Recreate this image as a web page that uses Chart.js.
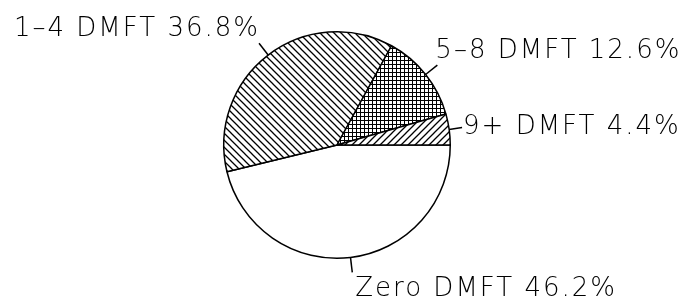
<!DOCTYPE html>
<html lang="en">
<head>
  <meta charset="UTF-8">
  <title>DMFT distribution</title>
  <script src="https://cdn.jsdelivr.net/npm/chart.js"></script>
  <style>
    html, body { margin: 0; padding: 0; background: #fff; }
    .chart-wrap { width: 688px; height: 302px; position: relative; }
  </style>
</head>
<body>
  <div class="chart-wrap">
    <canvas id="pieChart"></canvas>
  </div>

  <script>
    // Data
    const categories = ['Zero DMFT', '1–4 DMFT', '5–8 DMFT', '9+ DMFT'];
    const percents = [46.2, 36.8, 12.6, 4.4];

    // Hatch patterns (plotter style fills)
    function makePattern(kind) {
      const size = kind === 'grid' ? 4 : 7;
      const c = document.createElement('canvas');
      c.width = size; c.height = size;
      const g = c.getContext('2d');
      g.fillStyle = '#fff';
      g.fillRect(0, 0, size, size);
      g.strokeStyle = '#000';
      g.lineWidth = 1.3;
      g.beginPath();
      if (kind === 'back') {
        g.moveTo(-1, -1); g.lineTo(size + 1, size + 1);
        g.moveTo(-1, size - 1); g.lineTo(1, size + 1);
        g.moveTo(size - 1, -1); g.lineTo(size + 1, 1);
      } else if (kind === 'fwd') {
        g.moveTo(-1, size + 1); g.lineTo(size + 1, -1);
        g.moveTo(-1, 1); g.lineTo(1, -1);
        g.moveTo(size - 1, size + 1); g.lineTo(size + 1, size - 1);
      } else if (kind === 'grid') {
        g.lineWidth = 1;
        g.moveTo(0, 0.5); g.lineTo(size, 0.5);
        g.moveTo(0.5, 0); g.lineTo(0.5, size);
      }
      g.stroke();
      return g.createPattern(c, 'repeat');
    }

    const fills = ['#ffffff', makePattern('back'), makePattern('grid'), makePattern('fwd')];

    // how each label sits against the end of its leader line
    const labelAnchors = [
      { align: 'left',  baseline: 'top',        dx: 3,  dy: 4,  lead: 15 },
      { align: 'right', baseline: 'alphabetic', dx: 1,  dy: -7, lead: 15 },
      { align: 'left',  baseline: 'alphabetic', dx: -2, dy: -7, lead: 15 },
      { align: 'left',  baseline: 'middle',     dx: 1,  dy: 0,  lead: 13 }
    ];

    const leaderLabels = {
      id: 'leaderLabels',
      afterDatasetsDraw(chart) {
        const ctx = chart.ctx;
        const meta = chart.getDatasetMeta(0);
        ctx.save();
        ctx.strokeStyle = '#000';
        ctx.fillStyle = '#000';
        ctx.lineWidth = 1.5;
        ctx.font = '200 26px "DejaVu Sans", sans-serif';
        ctx.letterSpacing = '2px';
        meta.data.forEach((arc, i) => {
          const p = arc.getProps(['x', 'y', 'startAngle', 'endAngle', 'outerRadius'], true);
          const mid = (p.startAngle + p.endAngle) / 2;
          const a = labelAnchors[i];
          const ex = p.x + Math.cos(mid) * p.outerRadius;
          const ey = p.y + Math.sin(mid) * p.outerRadius;
          const lx = p.x + Math.cos(mid) * (p.outerRadius + a.lead);
          const ly = p.y + Math.sin(mid) * (p.outerRadius + a.lead);
          ctx.beginPath();
          ctx.moveTo(ex, ey);
          ctx.lineTo(lx, ly);
          ctx.stroke();
          ctx.textAlign = a.align;
          ctx.textBaseline = a.baseline;
          ctx.fillText(categories[i] + ' ' + percents[i].toFixed(1) + '%', lx + a.dx, ly + a.dy);
        });
        ctx.restore();
      }
    };

    new Chart(document.getElementById('pieChart'), {
      type: 'pie',
      data: {
        labels: categories,
        datasets: [{
          data: percents,
          backgroundColor: fills,
          borderColor: '#000',
          borderWidth: 1.5
        }]
      },
      options: {
        responsive: true,
        maintainAspectRatio: false,
        animation: false,
        rotation: 90,
        layout: { padding: { left: 223, right: 237, top: 31, bottom: 43 } },
        plugins: {
          legend: { display: false },
          tooltip: { enabled: false }
        }
      },
      plugins: [leaderLabels]
    });
  </script>
</body>
</html>
